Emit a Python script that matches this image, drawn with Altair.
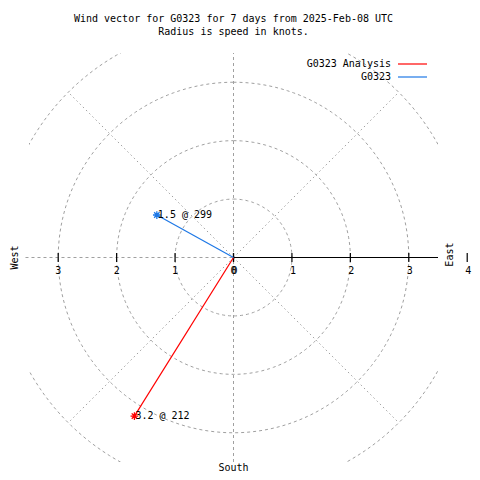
import altair as alt
import numpy as np
import pandas as pd

# ---- data ----
series = ["G0323 Analysis", "G0323"]
speeds = [3.2, 1.5]            # knots
directions = [212, 299]        # degrees, clockwise from north
colors = ["#ff0000", "#1e78e6"]
ring_radii = [1, 2, 3, 4]
spoke_angles = [45, 135, 225, 315]
east_ticks = [0, 1, 2, 3, 4]
west_ticks = [0, 1, 2, 3]
title_lines = ["Wind vector for G0323 for 7 days from 2025-Feb-08 UTC",
               "Radius is speed in knots."]
LIM = 3.5
SIZE = 409
FONT = "DejaVu Sans Mono"
GRID = "#a0a0a0"
TICK_HALF = 0.075   # half tick length in data units (~4 px)

xs = alt.Scale(domain=[-LIM, LIM], nice=False, zero=False)
ys = alt.Scale(domain=[-LIM, LIM], nice=False, zero=False)

# rings
ring_rows = []
for r in ring_radii:
    for i, t in enumerate(np.arange(0, 361, 2)):
        th = np.deg2rad(t)
        ring_rows.append({"r": r, "i": i, "x": r * np.sin(th), "y": r * np.cos(th)})
rings = pd.DataFrame(ring_rows)
ring_layer = alt.Chart(rings).mark_line(clip=True, color=GRID, strokeWidth=1,
                                        strokeDash=[3, 3]).encode(
    x=alt.X("x:Q", scale=xs, axis=None),
    y=alt.Y("y:Q", scale=ys, axis=None),
    detail="r:N", order="i:Q")

# spokes
rmax = max(ring_radii)
spokes = pd.DataFrame({
    "x": 0.0, "y": 0.0,
    "x2": [rmax * np.sin(np.deg2rad(a)) for a in spoke_angles],
    "y2": [rmax * np.cos(np.deg2rad(a)) for a in spoke_angles]})
spoke_layer = alt.Chart(spokes).mark_rule(color=GRID, strokeDash=[1.5, 3],
                                          strokeWidth=1).encode(
    x=alt.X("x:Q", scale=xs), y=alt.Y("y:Q", scale=ys), x2="x2:Q", y2="y2:Q")

# axes lines
axes = pd.DataFrame({
    "x": [-LIM - 0.06, 0.0, 0.0], "x2": [0.0, 0.0, LIM],
    "y": [0.0, -LIM, 0.0], "y2": [0.0, LIM, 0.0],
    "kind": ["west", "vert", "east"]})
dashed_axes = alt.Chart(axes).transform_filter("datum.kind != 'east'").mark_rule(
    color=GRID, strokeDash=[3, 3], strokeWidth=1).encode(
    x=alt.X("x:Q", scale=xs), y=alt.Y("y:Q", scale=ys), x2="x2:Q", y2="y2:Q")
east_axis = alt.Chart(axes).transform_filter("datum.kind == 'east'").mark_rule(
    color="black", strokeWidth=1.2).encode(
    x=alt.X("x:Q", scale=xs), y=alt.Y("y:Q", scale=ys), x2="x2:Q", y2="y2:Q")

# ticks and tick labels
ticks = pd.DataFrame({
    "x": [float(v) for v in east_ticks] + [-float(v) for v in west_ticks],
    "lab": [str(v) for v in east_ticks] + [str(v) for v in west_ticks],
    "side": ["e"] * len(east_ticks) + ["w"] * len(west_ticks),
    "y": 0.0, "ylo": -TICK_HALF, "yhi": TICK_HALF})
tick_layer = alt.Chart(ticks).mark_rule(color="black", strokeWidth=1.2,
                                        clip=False).encode(
    x=alt.X("x:Q", scale=xs), y=alt.Y("ylo:Q", scale=ys), y2="yhi:Q")
tick_labels_w = alt.Chart(ticks).transform_filter("datum.side == 'w'").mark_text(
    font=FONT, fontSize=10, dy=13, color="black", clip=False).encode(
    x=alt.X("x:Q", scale=xs), y=alt.Y("y:Q", scale=ys), text="lab:N")
tick_labels_e = alt.Chart(ticks).transform_filter("datum.side == 'e'").mark_text(
    font=FONT, fontSize=10, dy=13, dx=1, color="black", clip=False).encode(
    x=alt.X("x:Q", scale=xs), y=alt.Y("y:Q", scale=ys), text="lab:N")

# compass words
compass = pd.DataFrame({"lab": ["West", "East", "South"],
                        "x": [-3.74, 3.71, 0.0], "y": [0.0, 0.05, -3.65],
                        "ang": [270, 270, 0]})
compass_rot = alt.Chart(compass).transform_filter("datum.ang == 270").mark_text(
    font=FONT, fontSize=10, angle=270, color="black", clip=False).encode(
    x=alt.X("x:Q", scale=xs), y=alt.Y("y:Q", scale=ys), text="lab:N")
compass_flat = alt.Chart(compass).transform_filter("datum.ang == 0").mark_text(
    font=FONT, fontSize=10, baseline="alphabetic", color="black", clip=False).encode(
    x=alt.X("x:Q", scale=xs), y=alt.Y("y:Q", scale=ys), text="lab:N")

# wind vectors
vec = pd.DataFrame({
    "series": series,
    "x0": 0.0, "y0": 0.0,
    "x": [s * np.sin(np.deg2rad(d)) for s, d in zip(speeds, directions)],
    "y": [s * np.cos(np.deg2rad(d)) for s, d in zip(speeds, directions)],
    "lab": [f"{s} @ {d}" for s, d in zip(speeds, directions)]})
cscale = alt.Scale(domain=series, range=colors)
vec_layer = alt.Chart(vec).mark_rule(strokeWidth=1.2).encode(
    x=alt.X("x0:Q", scale=xs), y=alt.Y("y0:Q", scale=ys), x2="x:Q", y2="y:Q",
    color=alt.Color("series:N", scale=cscale, legend=None))
star = "M-1,0L1,0M0,-1L0,1M-0.7,-0.7L0.7,0.7M-0.7,0.7L0.7,-0.7"
pt_layer = alt.Chart(vec).mark_point(shape=star, size=60, filled=False,
                                     strokeWidth=1.3, opacity=1).encode(
    x=alt.X("x:Q", scale=xs), y=alt.Y("y:Q", scale=ys),
    color=alt.Color("series:N", scale=cscale, legend=None))
lab_layer = alt.Chart(vec).mark_text(font=FONT, fontSize=10, align="left", dx=1,
                                     color="black", clip=False).encode(
    x=alt.X("x:Q", scale=xs), y=alt.Y("y:Q", scale=ys), text="lab:N")

# title (two lines) as text marks
title_layers = []
for i, t in enumerate(title_lines):
    title_layers.append(alt.Chart(pd.DataFrame({"t": [t]})).mark_text(
        font=FONT, fontSize=10, color="black", clip=False).encode(
        x=alt.value(SIZE / 2), y=alt.value(-34 + 13 * i), text="t:N"))

# legend (label right-aligned, line to the right)
legend_layers = []
for i, (s, c) in enumerate(zip(series, colors)):
    d = pd.DataFrame({"s": [s]})
    legend_layers.append(alt.Chart(d).mark_text(
        font=FONT, fontSize=10, align="right", color="black", clip=False).encode(
        x=alt.value(362), y=alt.value(11 + 13 * i), text="s:N"))
    legend_layers.append(alt.Chart(d).mark_rule(color=c, strokeWidth=1.2).encode(
        x=alt.value(369), x2=alt.value(398), y=alt.value(11 + 13 * i)))

chart = alt.layer(
    ring_layer, spoke_layer, dashed_axes, east_axis, tick_layer,
    tick_labels_w, tick_labels_e, compass_rot, compass_flat,
    vec_layer, pt_layer, lab_layer, *title_layers, *legend_layers
).properties(
    width=SIZE, height=SIZE,
    padding={"left": 21, "top": 45, "right": 34, "bottom": 10},
    autosize=alt.AutoSizeParams(type="none"),
    background="white"
).configure_view(stroke=None)

chart.save("out.html", embed_options={"renderer": "svg", "actions": False})
